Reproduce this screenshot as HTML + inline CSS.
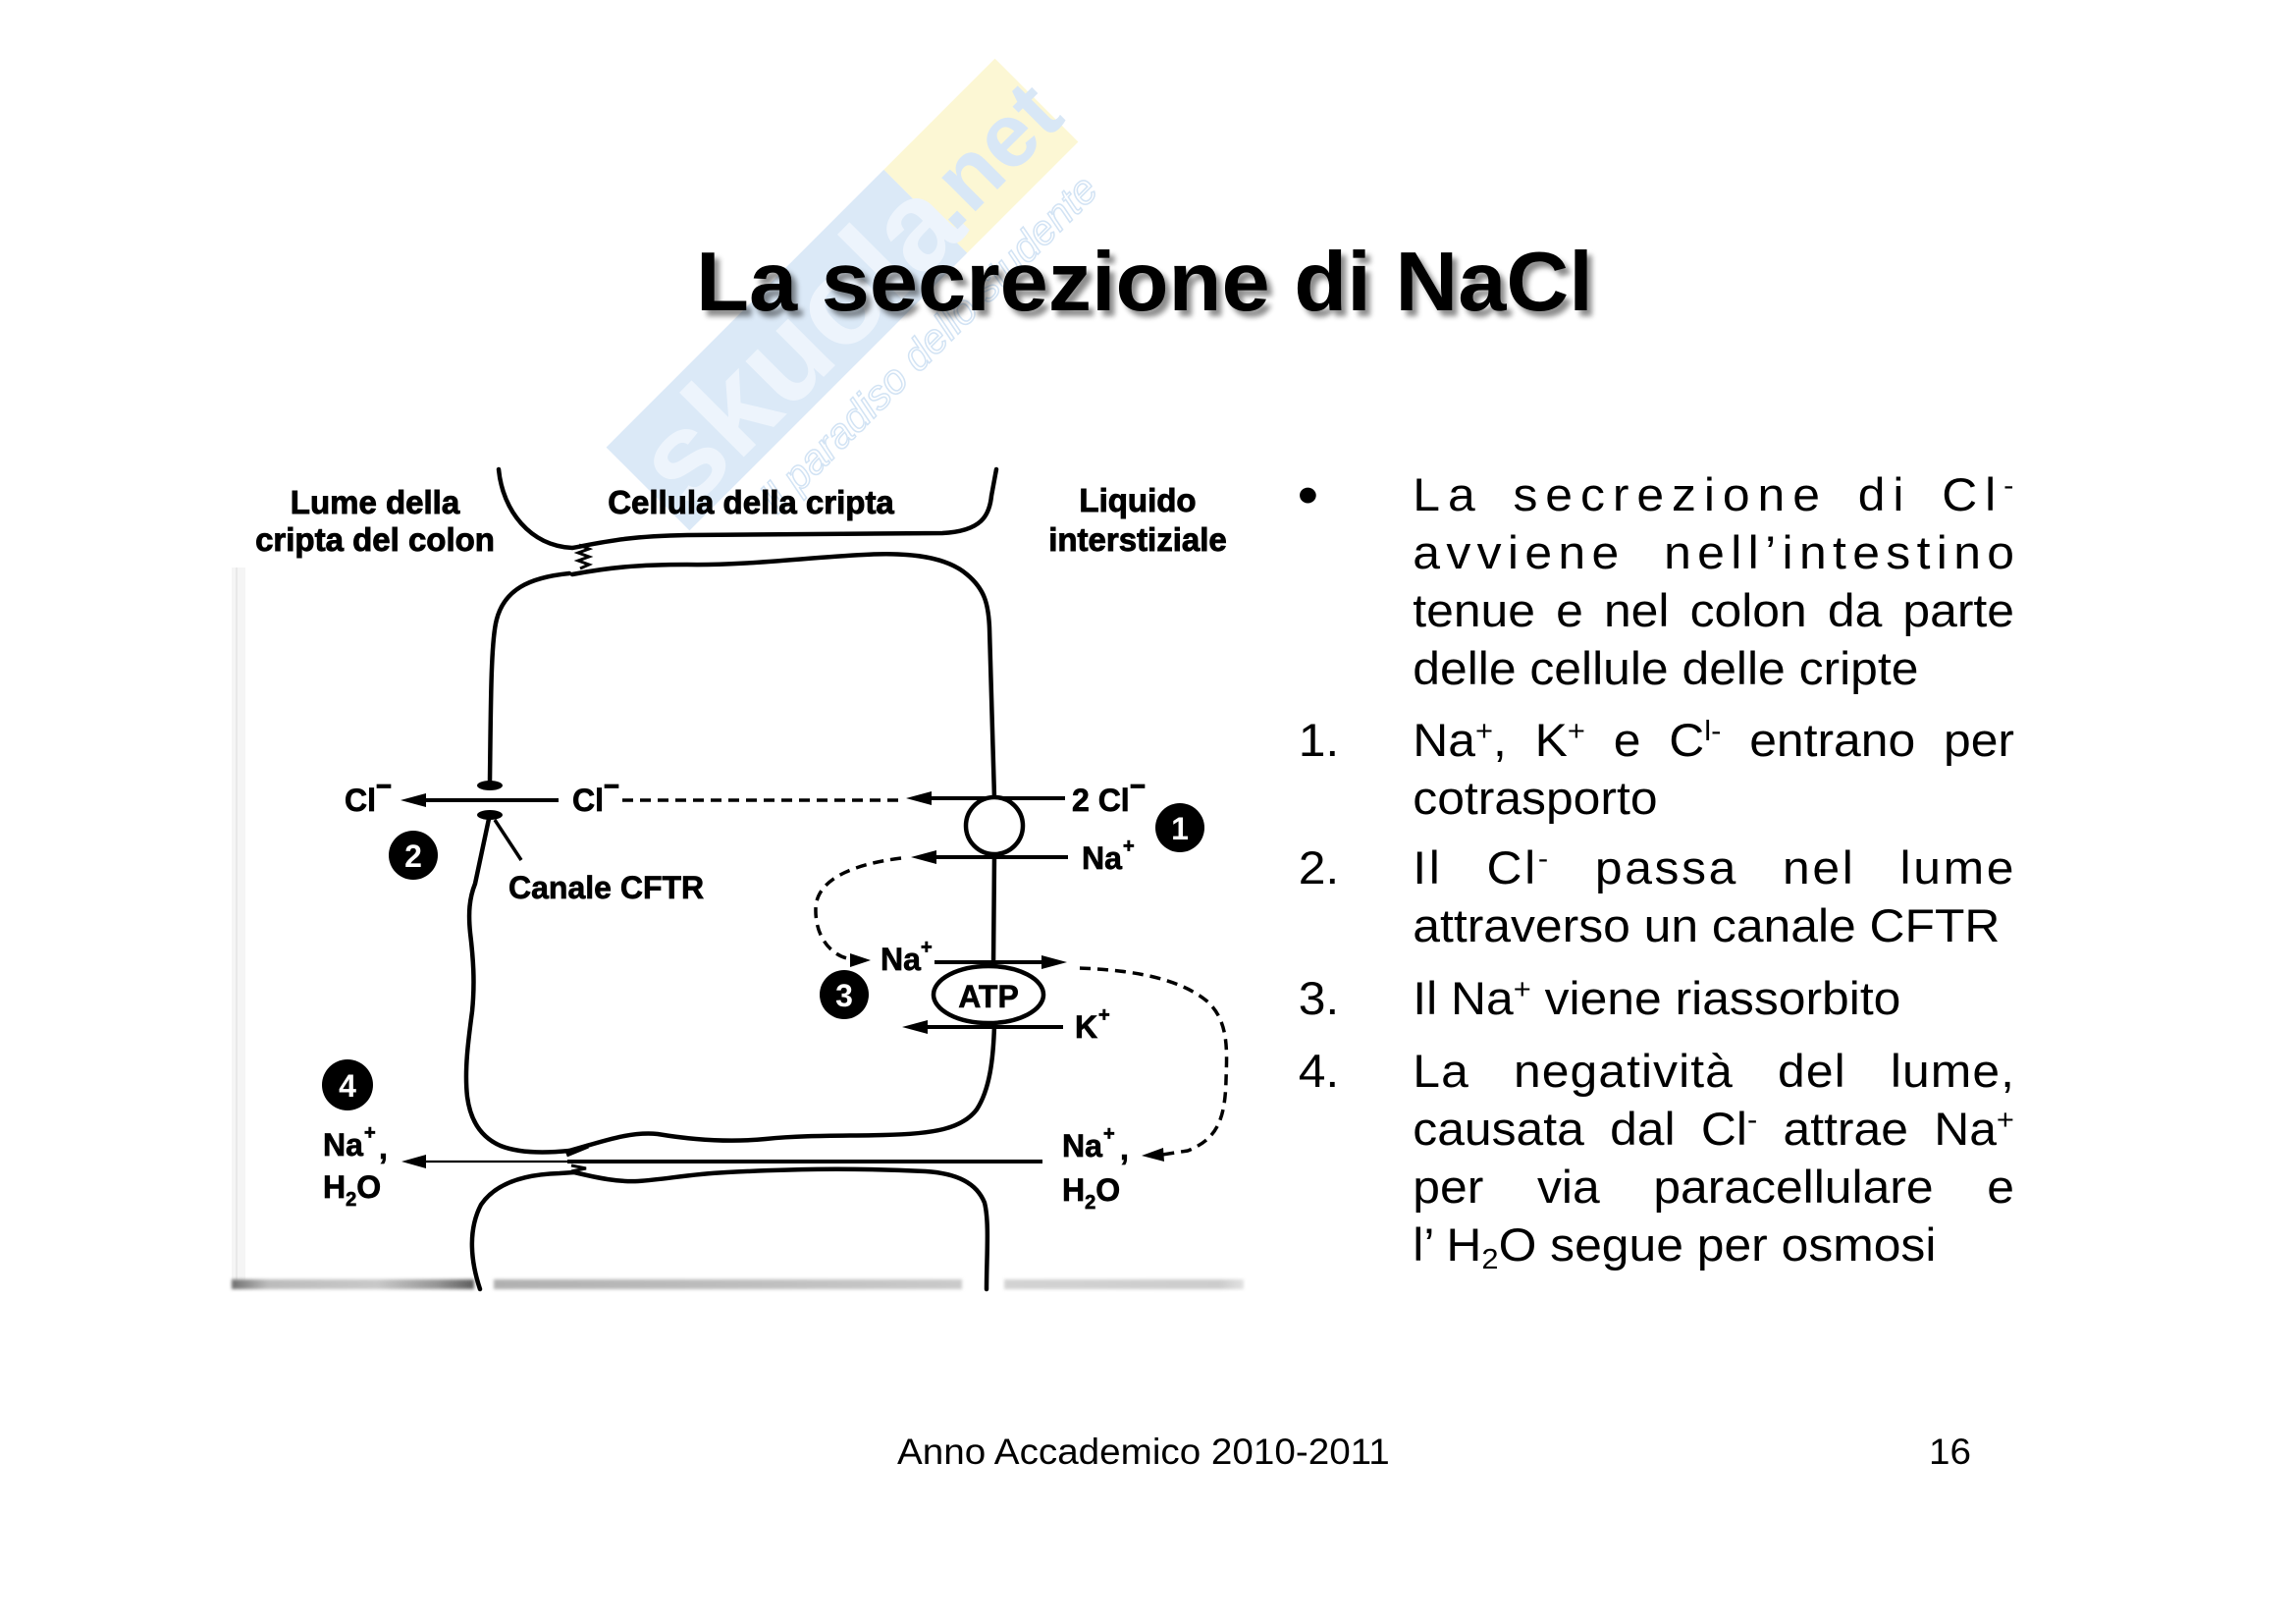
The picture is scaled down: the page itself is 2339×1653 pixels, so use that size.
<!DOCTYPE html>
<html>
<head>
<meta charset="utf-8">
<style>
html,body{margin:0;padding:0;}
body{width:2339px;height:1653px;background:#fff;position:relative;overflow:hidden;font-family:"Liberation Sans",Arial,sans-serif;color:#000;}
.title{position:absolute;left:709px;top:238px;font-size:85px;line-height:100px;font-weight:bold;white-space:nowrap;transform:scaleX(1.04);transform-origin:0 0;text-shadow:5px 6px 5px rgba(0,0,0,0.45);}
.col{position:absolute;left:1328px;top:0;width:700px;height:1400px;transform:scaleX(1.06);transform-origin:0 0;}
.ln{position:absolute;left:105px;font-size:47px;line-height:59px;white-space:nowrap;}
.j{text-align:justify;text-align-last:justify;white-space:normal;width:578px;}
.num{position:absolute;left:-5px;font-size:47px;line-height:59px;white-space:nowrap;}
.sp{font-size:0.62em;position:relative;top:-0.55em;line-height:0;}
.sb{font-size:0.62em;position:relative;top:0.28em;line-height:0;}
.foot{position:absolute;font-size:37.5px;line-height:45px;white-space:nowrap;transform:scaleX(1.03);transform-origin:0 0;}
</style>
</head>
<body>
<svg width="2339" height="1653" viewBox="0 0 2339 1653" style="position:absolute;left:0;top:0" font-family="Liberation Sans, Arial, sans-serif">
  <defs>
    <linearGradient id="gl" x1="0" x2="1" y1="0" y2="0">
      <stop offset="0" stop-color="#707070"/>
      <stop offset="0.15" stop-color="#bbbbbb"/>
      <stop offset="0.6" stop-color="#c8c8c8"/>
      <stop offset="0.85" stop-color="#959595"/>
      <stop offset="1" stop-color="#5e5e5e"/>
    </linearGradient>
    <linearGradient id="gm" x1="0" x2="1" y1="0" y2="0">
      <stop offset="0" stop-color="#b0b0b0"/>
      <stop offset="0.5" stop-color="#bdbdbd"/>
      <stop offset="1" stop-color="#cacaca"/>
    </linearGradient>
    <linearGradient id="gr" x1="0" x2="1" y1="0" y2="0">
      <stop offset="0" stop-color="#d3d3d3"/>
      <stop offset="0.9" stop-color="#cccccc"/>
      <stop offset="1" stop-color="#e2e2e2"/>
    </linearGradient>
    <filter id="bl" x="-5%" y="-100%" width="110%" height="300%"><feGaussianBlur stdDeviation="1.6"/></filter>
  </defs>

  <!-- watermark -->
  <g transform="translate(660,498) rotate(-45)">
    <rect x="0" y="-60" width="400" height="120" fill="#dbe9f7"/>
    <rect x="400" y="-60" width="160" height="120" fill="#fcf7d4"/>
    <text x="12" y="46" font-size="128" font-weight="bold" fill="#edf4fc">skuola</text>
    <text x="404" y="36" font-size="92" font-weight="bold" fill="#d8e7f6">.net</text>
    <text x="75" y="112" font-size="42" font-style="italic" fill="none" stroke="#d2e3f4" stroke-width="1.5">il paradiso dello studente</text>
  </g>

  <!-- image edges -->
  <rect x="236" y="578" width="14" height="726" fill="#f5f5f5"/>
  <rect x="240" y="578" width="2" height="726" fill="#e9e9e9"/>
  <g filter="url(#bl)">
    <rect x="236" y="1303" width="247" height="10" fill="url(#gl)"/>
    <rect x="503" y="1303" width="477" height="10" fill="url(#gm)"/>
    <rect x="1023" y="1303" width="244" height="10" fill="url(#gr)"/>
  </g>

  <!-- membranes -->
  <g fill="none" stroke="#000" stroke-width="4.5" stroke-linecap="round" stroke-linejoin="round">
    <path d="M508 478 C512 520 540 556 583 558 C615 552 640 546 700 545 L960 543 C1000 541 1008 525 1010 505 L1015 478"/>
    <path d="M580 584 C540 588 512 600 505 635 C500 660 500 720 499 796"/>
    <path d="M583 585 C620 578 650 575 700 575 C760 576 820 568 880 565 C930 562 965 568 985 585 C1003 600 1007 615 1008 640 L1013 813"/>
    <path d="M1013 870 L1012 984"/>
    <path d="M1013 1043 C1012 1080 1008 1110 995 1130 C980 1150 950 1155 900 1156 C860 1157 820 1156 780 1160 C740 1164 700 1160 670 1155 C640 1152 610 1164 580 1172"/>
    <path d="M498 834 L484 900 C478 915 477 930 479 950 C482 975 484 1000 481 1030 C477 1060 473 1090 476 1117 C479 1140 489 1158 510 1167 C530 1175 560 1174 580 1172"/>
    <path d="M489 1313 C478 1280 478 1250 490 1227 C505 1205 535 1196 570 1195 L585 1194 C610 1200 630 1204 650 1203 C680 1201 700 1196 740 1194 C800 1191 860 1189 943 1193 C975 1195 995 1205 1003 1225 C1008 1245 1005 1280 1005 1313"/>
  </g>

  <!-- junctions -->
  <polyline points="590,555 600,559 589,563 600,567 589,571 600,575 591,579" fill="none" stroke="#000" stroke-width="3"/>
  <path d="M577 1176 L599 1167" stroke="#000" stroke-width="5" fill="none"/>
  <polyline points="582,1187 597,1190 582,1193 597,1197" fill="none" stroke="#000" stroke-width="3"/>

  <!-- CFTR channel -->
  <ellipse cx="499" cy="800" rx="13" ry="5" fill="#000"/>
  <ellipse cx="499" cy="830" rx="13" ry="5" fill="#000"/>
  <line x1="432" y1="815" x2="569" y2="815" stroke="#000" stroke-width="4"/>
  <polygon points="408,815 434,808 434,822" fill="#000"/>
  <line x1="504" y1="835" x2="531" y2="876" stroke="#000" stroke-width="3.5"/>

  <!-- dashed Cl -->
  <line x1="634" y1="815" x2="917" y2="815" stroke="#000" stroke-width="3.5" stroke-dasharray="11 7"/>

  <!-- cotransporter -->
  <line x1="948" y1="813" x2="1085" y2="813" stroke="#000" stroke-width="4"/>
  <polygon points="923,813 949,806 949,820" fill="#000"/>
  <line x1="952" y1="873" x2="1088" y2="873" stroke="#000" stroke-width="4"/>
  <polygon points="928,873 954,866 954,880" fill="#000"/>
  <circle cx="1013" cy="841" r="29" fill="#fff" stroke="#000" stroke-width="4.5"/>

  <!-- pump -->
  <line x1="952" y1="980" x2="1064" y2="980" stroke="#000" stroke-width="4"/>
  <polygon points="1087,980 1061,973 1061,987" fill="#000"/>
  <line x1="944" y1="1046" x2="1083" y2="1046" stroke="#000" stroke-width="4"/>
  <polygon points="919,1046 945,1039 945,1053" fill="#000"/>
  <ellipse cx="1007" cy="1013" rx="56" ry="29" fill="#fff" stroke="#000" stroke-width="4.5"/>
  <text x="1007" y="1026" font-size="32" font-weight="bold" text-anchor="middle" stroke="#000" stroke-width="0.6">ATP</text>

  <!-- dashed curves -->
  <path d="M918 874 C870 880 832 895 831 925 C830 955 848 975 868 977" fill="none" stroke="#000" stroke-width="3.5" stroke-dasharray="11 7"/>
  <polygon points="887,978 866,971 866,985" fill="#000"/>
  <path d="M1100 986 C1150 988 1200 995 1230 1020 C1252 1040 1250 1070 1249 1100 C1248 1140 1240 1160 1210 1172 L1184 1176" fill="none" stroke="#000" stroke-width="3.5" stroke-dasharray="11 7"/>
  <polygon points="1163,1177 1185,1169 1186,1183" fill="#000"/>

  <!-- paracellular -->
  <line x1="432" y1="1183" x2="578" y2="1183" stroke="#000" stroke-width="2.2"/>
  <line x1="578" y1="1183" x2="1062" y2="1183" stroke="#000" stroke-width="4"/>
  <polygon points="409,1183 434,1176 434,1190" fill="#000"/>

  <!-- number circles -->
  <circle cx="1202" cy="843" r="25" fill="#000"/>
  <text x="1202" y="855" font-size="32" font-weight="bold" fill="#fff" text-anchor="middle">1</text>
  <circle cx="421" cy="871" r="25" fill="#000"/>
  <text x="421" y="883" font-size="32" font-weight="bold" fill="#fff" text-anchor="middle">2</text>
  <circle cx="860" cy="1013" r="25" fill="#000"/>
  <text x="860" y="1025" font-size="32" font-weight="bold" fill="#fff" text-anchor="middle">3</text>
  <circle cx="354" cy="1105" r="26" fill="#000"/>
  <text x="354" y="1117" font-size="32" font-weight="bold" fill="#fff" text-anchor="middle">4</text>

  <!-- labels -->
  <g font-weight="bold" font-size="33" fill="#000" stroke="#000" stroke-width="0.9">
    <text x="382" y="523" text-anchor="middle">Lume della</text>
    <text x="382" y="561" text-anchor="middle">cripta del colon</text>
    <text x="765" y="523" text-anchor="middle">Cellula della cripta</text>
    <text x="1159" y="521" text-anchor="middle">Liquido</text>
    <text x="1159" y="561" text-anchor="middle">interstiziale</text>
  </g>
  <g font-weight="bold" font-size="32" fill="#000" stroke="#000" stroke-width="0.7">
    <text x="351" y="826">Cl</text>
    <rect x="384" y="799" width="14" height="3.5"/>
    <text x="583" y="826">Cl</text>
    <rect x="616" y="799" width="14" height="3.5"/>
    <text x="1092" y="826">2 Cl</text>
    <rect x="1152" y="799" width="14" height="3.5"/>
    <text x="1102" y="885">Na</text>
    <text x="1144" y="868" font-size="20">+</text>
    <text x="518" y="915">Canale CFTR</text>
    <text x="897" y="988">Na</text>
    <text x="938" y="971" font-size="20">+</text>
    <text x="1095" y="1057">K</text>
    <text x="1119" y="1040" font-size="20">+</text>
    <text x="329" y="1177">Na</text>
    <text x="371" y="1160" font-size="20">+</text>
    <text x="386" y="1180">,</text>
    <text x="329" y="1220">H<tspan font-size="20" dy="8">2</tspan><tspan dy="-8">O</tspan></text>
    <text x="1082" y="1178">Na</text>
    <text x="1124" y="1161" font-size="20">+</text>
    <text x="1141" y="1181">,</text>
    <text x="1082" y="1223">H<tspan font-size="20" dy="8">2</tspan><tspan dy="-8">O</tspan></text>
  </g>
</svg>

<div class="title">La secrezione di NaCl</div>

<div class="col">
  <div class="num" style="top:470px;left:-6px;font-size:58px;line-height:70px;">&#8226;</div>
  <div class="ln j" style="top:474px;letter-spacing:7.5px;width:585px;">La secrezione di Cl<span class="sp">-</span></div>
  <div class="ln j" style="top:533px;letter-spacing:6px;width:584px;">avviene nell&#8217;intestino</div>
  <div class="ln j" style="top:592px;">tenue e nel colon da parte</div>
  <div class="ln" style="top:651px;">delle cellule delle cripte</div>

  <div class="num" style="top:724px;">1.</div>
  <div class="ln j" style="top:724px;">Na<span class="sp">+</span>, K<span class="sp">+</span> e C<span class="sp">l-</span> entrano per</div>
  <div class="ln" style="top:783px;">cotrasporto</div>

  <div class="num" style="top:854px;">2.</div>
  <div class="ln j" style="top:854px;letter-spacing:2.5px;width:580px;">Il Cl<span class="sp">-</span> passa nel lume</div>
  <div class="ln" style="top:913px;">attraverso un canale CFTR</div>

  <div class="num" style="top:987px;">3.</div>
  <div class="ln" style="top:987px;">Il Na<span class="sp">+</span> viene riassorbito</div>

  <div class="num" style="top:1061px;">4.</div>
  <div class="ln j" style="top:1061px;letter-spacing:1px;width:579px;">La negatività del lume,</div>
  <div class="ln j" style="top:1120px;">causata dal Cl<span class="sp">-</span> attrae Na<span class="sp">+</span></div>
  <div class="ln j" style="top:1179px;">per via paracellulare e</div>
  <div class="ln" style="top:1238px;">l&#8217; H<span class="sb">2</span>O segue per osmosi</div>
</div>

<div class="foot" style="left:914px;top:1456px;">Anno Accademico 2010-2011</div>
<div class="foot" style="left:1965px;top:1456px;">16</div>
</body>
</html>
